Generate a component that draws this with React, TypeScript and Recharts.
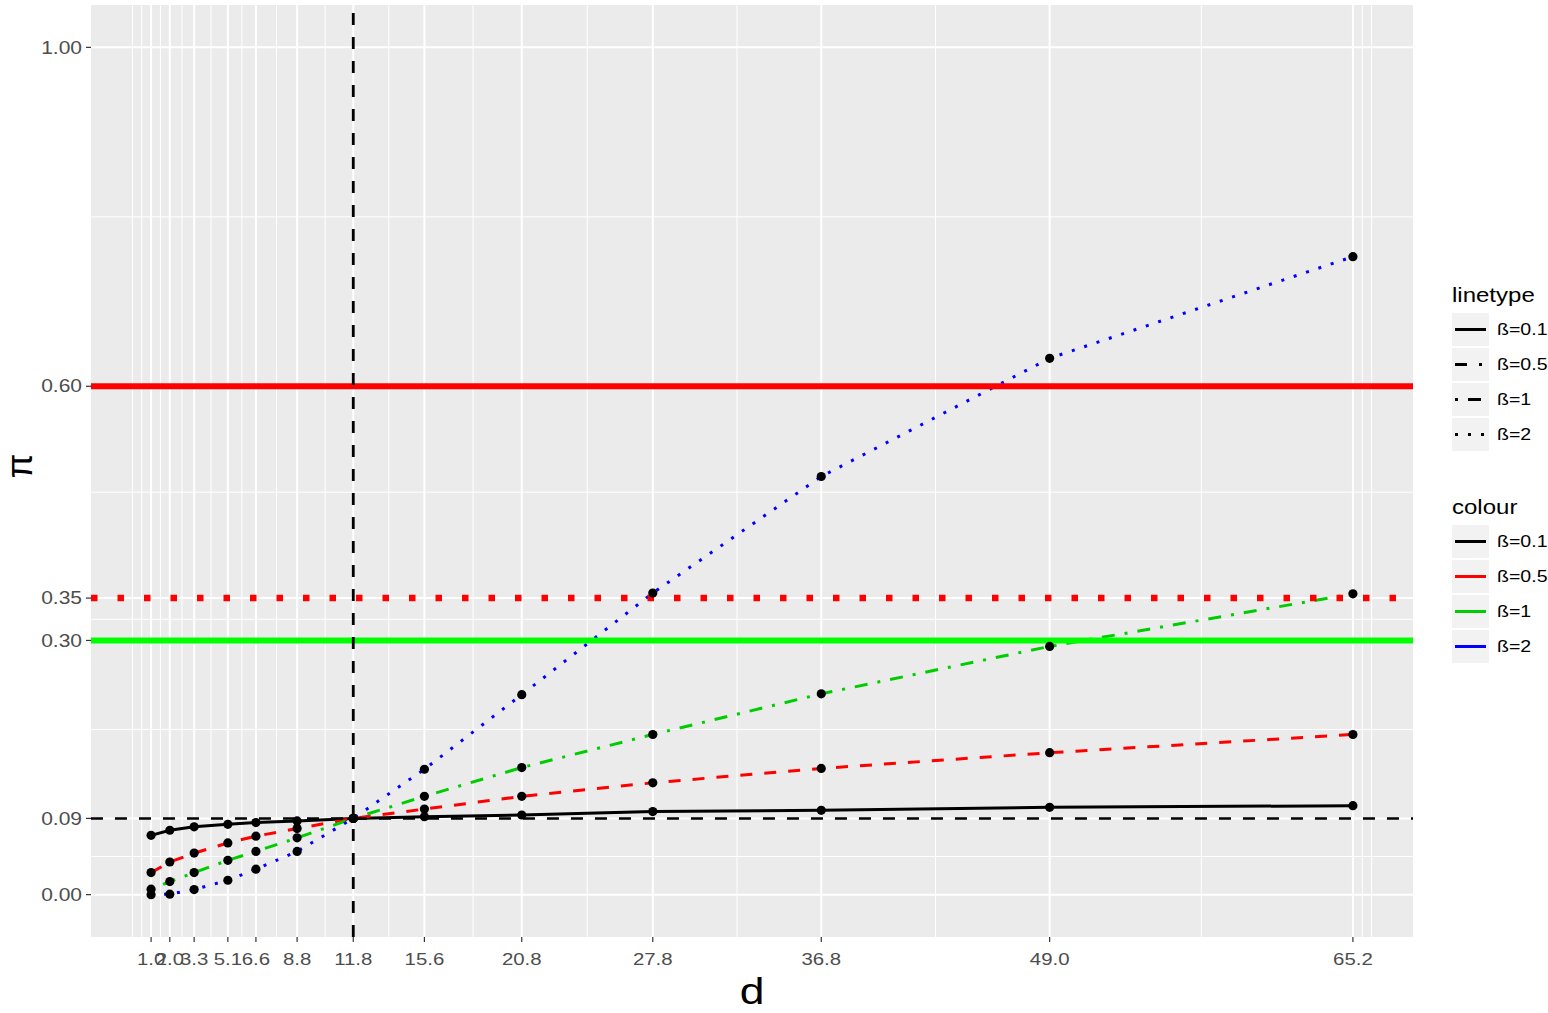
import {
  ComposedChart,
  Line,
  ReferenceLine,
  XAxis,
  YAxis,
} from 'recharts';

// distances d where pi was evaluated (also the x breaks)
const dValues = [1.0, 2.0, 3.3, 5.1, 6.6, 8.8, 11.8, 15.6, 20.8, 27.8, 36.8, 49.0, 65.2];

// pi(d) for each beta
const piBeta01 = [0.070, 0.076, 0.080, 0.083, 0.085, 0.087, 0.090, 0.092, 0.094, 0.098, 0.0995, 0.103, 0.105];
const piBeta05 = [0.026, 0.0385, 0.049, 0.061, 0.069, 0.078, 0.090, 0.101, 0.116, 0.132, 0.149, 0.1675, 0.189];
const piBeta1 = [0.0064, 0.0154, 0.026, 0.0405, 0.051, 0.067, 0.090, 0.116, 0.150, 0.189, 0.237, 0.293, 0.355];
const piBeta2 = [0.000, 0.0005, 0.006, 0.017, 0.030, 0.051, 0.090, 0.148, 0.236, 0.356, 0.4935, 0.633, 0.753];

const yTicks = [0, 0.09, 0.3, 0.35, 0.6, 1.0];
const xMinor = [0, 0.5, 1.5, 2.65, 4.2, 5.85, 7.7, 10.3, 13.7, 18.2, 24.3, 32.3, 42.9, 57.1, 65.7, 66.2];
const yMinor = [0.045, 0.195, 0.325, 0.475, 0.8];

const betaLabels = ['ß=0.1', 'ß=0.5', 'ß=1', 'ß=2'];
const seriesKeys = ['b01', 'b05', 'b1', 'b2'];
const seriesColors = ['#000000', '#FF0000', '#00CD00', '#0000FF'];
const seriesDash = [undefined, '12 12', '3 10 13 10', '3 10'];

const rows = dValues.map((d, i) => ({
  d,
  b01: piBeta01[i],
  b05: piBeta05[i],
  b1: piBeta1[i],
  b2: piBeta2[i],
}));

// panel geometry (page pixels)
const W = 1548;
const H = 1013;
const PL = 91;
const PR = 1413;
const PT = 5;
const PB = 937;
const YAXIS_W = 60;
const XAXIS_H = 40;

const FONT = '"Liberation Sans", Arial, sans-serif';
const STRETCH = 1.2; // the original render is a bit wider than tall

function XTick({ x, y, payload }: any) {
  return (
    <g transform={`translate(${x},${y})`}>
      <text transform={`scale(${STRETCH},1)`} textAnchor="middle" dy="0.71em" fontSize={17} fill="#4D4D4D" fontFamily={FONT}>
        {Number(payload.value).toFixed(1)}
      </text>
    </g>
  );
}

function YTick({ x, y, payload }: any) {
  return (
    <g transform={`translate(${x},${y})`}>
      <text transform={`scale(${STRETCH},1)`} textAnchor="end" dy="0.355em" fontSize={17.5} fill="#4D4D4D" fontFamily={FONT}>
        {Number(payload.value).toFixed(2)}
      </text>
    </g>
  );
}

function LegendKey({ dash, color, len }: { dash?: string; color: string; len: number }) {
  return (
    <svg width={37} height={33} style={{ display: 'block', background: '#F2F2F2' }}>
      <line x1={3} x2={3 + len} y1={16.5} y2={16.5} stroke={color} strokeWidth={3} strokeDasharray={dash} />
    </svg>
  );
}

function LegendBlock({ title, top, dashes, colors, lens }: { title: string; top: number; dashes: (string | undefined)[]; colors: string[]; lens: number[] }) {
  return (
    <div style={{ position: 'absolute', left: 1452, top, fontFamily: FONT, whiteSpace: 'nowrap' }}>
      <div style={{ height: 29 }}>
        <span style={{ display: 'inline-block', fontSize: 20, lineHeight: '24px', color: '#000', transform: `scaleX(${STRETCH})`, transformOrigin: 'left' }}>
          {title}
        </span>
      </div>
      {betaLabels.map((lab, i) => (
        <div key={lab} style={{ display: 'flex', alignItems: 'center', height: 35 }}>
          <LegendKey dash={dashes[i]} color={colors[i]} len={lens[i]} />
          <span style={{ display: 'inline-block', marginLeft: 8, fontSize: 16.3, color: '#000', transform: `scaleX(${STRETCH})`, transformOrigin: 'left' }}>
            {lab}
          </span>
        </div>
      ))}
    </div>
  );
}

export default function App() {
  return (
    <div style={{ position: 'absolute', left: 0, top: 0, width: W, height: H, background: '#fff', overflow: 'hidden' }}>
      <div style={{ position: 'absolute', left: PL, top: PT, width: PR - PL, height: PB - PT, background: '#EBEBEB' }} />
      <div style={{ position: 'absolute', left: 0, top: 0 }}>
        <ComposedChart
          width={W}
          height={H}
          data={rows}
          margin={{ top: PT, right: W - PR, left: PL - YAXIS_W, bottom: H - PB - XAXIS_H }}
        >
          <XAxis
            dataKey="d"
            type="number"
            domain={[-2.21, 68.41]}
            ticks={dValues}
            interval={0}
            allowDataOverflow
            axisLine={false}
            tickSize={5}
            tickMargin={11}
            tickLine={{ stroke: '#333333', strokeWidth: 1.2 }}
            tick={<XTick />}
            height={XAXIS_H}
          />
          <YAxis
            type="number"
            domain={[-0.05, 1.05]}
            ticks={yTicks}
            interval={0}
            allowDataOverflow
            axisLine={false}
            tickSize={5}
            tickMargin={4}
            tickLine={{ stroke: '#333333', strokeWidth: 1.2 }}
            tick={<YTick />}
            width={YAXIS_W}
          />

          {/* grid */}
          {xMinor.map((v) => (
            <ReferenceLine key={'xm' + v} x={v} stroke="#FFFFFF" strokeWidth={1} zIndex={-50} />
          ))}
          {yMinor.map((v) => (
            <ReferenceLine key={'ym' + v} y={v} stroke="#FFFFFF" strokeWidth={1} zIndex={-50} />
          ))}
          {dValues.map((v) => (
            <ReferenceLine key={'xM' + v} x={v} stroke="#FFFFFF" strokeWidth={2} zIndex={-40} />
          ))}
          {yTicks.map((v) => (
            <ReferenceLine key={'yM' + v} y={v} stroke="#FFFFFF" strokeWidth={2} zIndex={-40} />
          ))}

          {seriesKeys.map((k, i) => (
            <Line
              key={k}
              dataKey={k}
              type="linear"
              stroke={seriesColors[i]}
              strokeWidth={3}
              strokeDasharray={seriesDash[i]}
              dot={false}
              activeDot={false}
              isAnimationActive={false}
            />
          ))}

          {/* thresholds */}
          <ReferenceLine y={0.6} stroke="#FF0000" strokeWidth={6} zIndex={450} />
          <ReferenceLine y={0.35} stroke="#FF0000" strokeWidth={6.5} strokeDasharray="6.5 20" zIndex={450} />
          <ReferenceLine y={0.3} stroke="#00FF00" strokeWidth={6} zIndex={450} />
          <ReferenceLine y={0.09} stroke="#000000" strokeWidth={2.5} strokeDasharray="12 12" zIndex={450} />
          <ReferenceLine x={11.8} stroke="#000000" strokeWidth={2.8} strokeDasharray="12 12" zIndex={450} />

          {seriesKeys.map((k) => (
            <Line
              key={'pt' + k}
              dataKey={k}
              type="linear"
              stroke="none"
              dot={{ r: 4.6, fill: '#000000', stroke: '#000000', strokeWidth: 0 }}
              activeDot={false}
              isAnimationActive={false}
              zIndex={600}
            />
          ))}
        </ComposedChart>
      </div>

      {/* axis titles */}
      <div
        style={{
          position: 'absolute',
          left: (PL + PR) / 2 - 30,
          width: 60,
          top: 970,
          textAlign: 'center',
          fontSize: 37,
          lineHeight: '44px',
          fontFamily: FONT,
          color: '#000',
          transform: `scaleX(${STRETCH})`,
        }}
      >
        d
      </div>
      <div
        style={{
          position: 'absolute',
          left: 0,
          top: 446,
          width: 40,
          height: 40,
          textAlign: 'center',
          fontSize: 36,
          lineHeight: '40px',
          fontFamily: FONT,
          color: '#000',
          transform: 'rotate(-90deg)',
        }}
      >
        π
      </div>

      <LegendBlock title="linetype" top={283} dashes={[undefined, '12 12', '3 10 13 10', '3 10']} colors={['#000', '#000', '#000', '#000']} lens={[31, 27, 31, 31]} />
      <LegendBlock title="colour" top={495} dashes={[undefined, undefined, undefined, undefined]} colors={seriesColors} lens={[31, 31, 31, 31]} />
    </div>
  );
}
